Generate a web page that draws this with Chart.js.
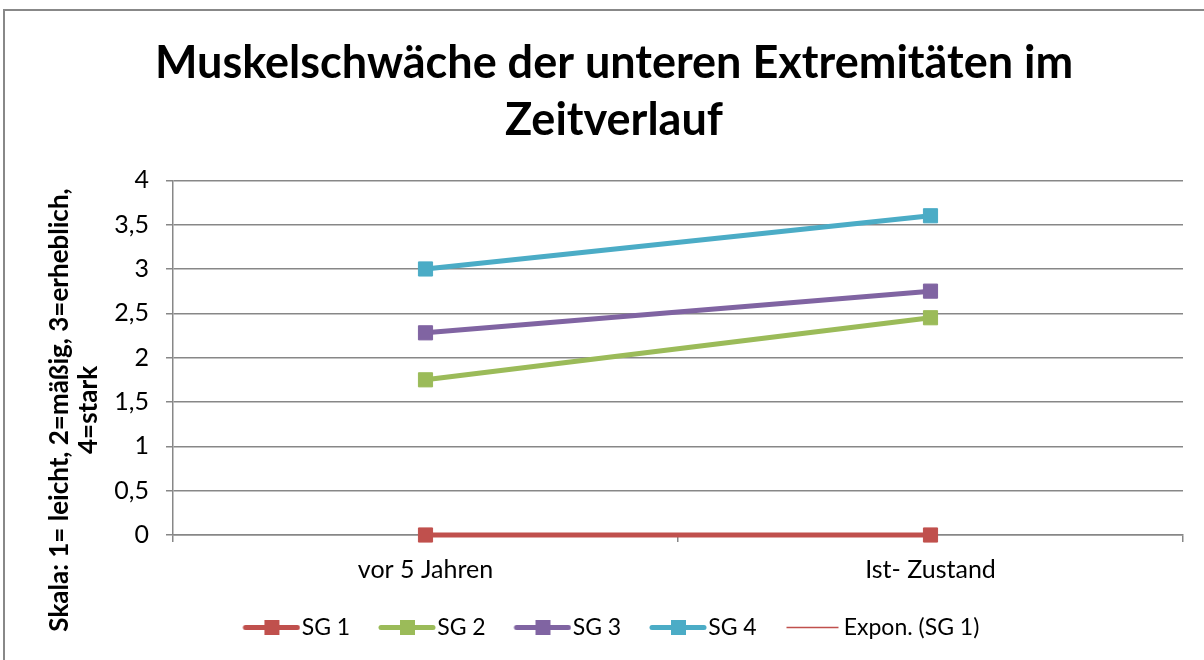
<!DOCTYPE html>
<html>
<head>
<meta charset="utf-8">
<script src="https://cdn.jsdelivr.net/npm/chart.js@4.4.1/dist/chart.umd.min.js"></script>
<style>
body{margin:0;background:#fff;overflow:hidden;}
#frameID{position:absolute;left:3px;top:9px;width:1300px;height:700px;border:2px solid #888;}
#wrapID{position:absolute;left:0;top:0;width:1204px;height:660px;}
</style>
</head>
<body>
<div id="frameID"></div>
<div id="wrapID"><canvas id="chartID"></canvas></div>
<script>
// values
var categories=['vor 5 Jahren','Ist- Zustand'];
var sg1=[0,0];
var sg2=[1.75,2.45];
var sg3=[2.28,2.75];
var sg4=[3.0,3.6];
var seriesNames=['SG 1','SG 2','SG 3','SG 4','Expon. (SG 1)'];
var seriesColors=['#C0504D','#9BBB59','#8064A2','#4BACC6','#C0504D'];
var yTickLabels=['0','0,5','1','1,5','2','2,5','3','3,5','4'];
var chartTitle=['Muskelschwäche der unteren Extremitäten im','Zeitverlauf'];
var yTitle=['Skala: 1= leicht, 2=mäßig, 3=erheblich,','4=stark'];

var fontName='Lato, "Open Sans", sans-serif';
var gridColor='#878787';
Chart.defaults.font.family=fontName;
Chart.defaults.color='#000';

// legend icon: line (with square marker) drawn in the right part of a wider canvas
function legendIcon(color,lineW,marker) {
 var cv=document.createElement('canvas');
 cv.width=86; cv.height=19;
 var g=cv.getContext('2d');
 g.strokeStyle=color; g.lineWidth=lineW; g.lineCap=marker?'round':'butt';
 g.beginPath();
 if (marker) {g.moveTo(31,9.5); g.lineTo(83,9.5);} else {g.moveTo(30,9.5); g.lineTo(82,9.5);}
 g.stroke();
 if (marker) {g.fillStyle=color; g.fillRect(50,2,15,15);}
 return cv;
}
var icons=[
 legendIcon(seriesColors[0],5,true),
 legendIcon(seriesColors[1],5,true),
 legendIcon(seriesColors[2],5,true),
 legendIcon(seriesColors[3],5,true),
 legendIcon(seriesColors[4],1.5,false)
];

var yTitlePlugin={
 id:'yTitle',
 afterLayout(chart) {
  // the icons start inside the box, so move the legend a bit left
  chart.legend.left-=12;
  chart.legend.right-=12;
 },
 afterDraw(chart) {
  var c=chart.ctx;
  c.save();
  c.translate(60,410);
  c.rotate(-Math.PI/2);
  c.font='bold 26px '+fontName;
  c.fillStyle='#000';
  c.textAlign='center';
  c.textBaseline='middle';
  c.fillText(yTitle[0],0,0);
  c.fillText(yTitle[1],0,29);
  c.restore();
 }
};

function lineSet(name,values,color) {
 return {label:name, data:values, borderColor:color, backgroundColor:color,
  borderWidth:5, pointStyle:'rect', pointRadius:10, pointBorderWidth:1,
  pointBackgroundColor:color, pointBorderColor:color, tension:0, clip:false};
}

var ctx=document.getElementById('chartID').getContext('2d');
var chart=new Chart(ctx,{
 type:'line',
 data:{
  labels:categories,
  datasets:[
   lineSet(seriesNames[0],sg1,seriesColors[0]),
   lineSet(seriesNames[1],sg2,seriesColors[1]),
   lineSet(seriesNames[2],sg3,seriesColors[2]),
   lineSet(seriesNames[3],sg4,seriesColors[3]),
   {label:seriesNames[4], data:[null,null], borderColor:seriesColors[4], borderWidth:1.5, pointRadius:0}
  ]
 },
 options:{
  responsive:true, maintainAspectRatio:false, animation:false,
  layout:{padding:{left:45,right:21,top:0,bottom:11}},
  plugins:{
   title:{display:true, text:chartTitle, color:'#000',
    font:{size:45,weight:'bold',lineHeight:1.27}, padding:{top:35,bottom:31}},
   legend:{position:'bottom',
    labels:{usePointStyle:true, pointStyleWidth:65.5, padding:10, color:'#000', font:{size:23},
     generateLabels(ch) {
      return ch.data.datasets.map(function(ds,i){
       return {text:ds.label, pointStyle:icons[i], fillStyle:'transparent', strokeStyle:'transparent',
        lineWidth:0, hidden:false, datasetIndex:i, fontColor:'#000'};
      });
     }}},
   tooltip:{enabled:false}
  },
  scales:{
   x:{offset:true,
    grid:{offset:true, drawOnChartArea:false, color:gridColor, lineWidth:1.5, tickLength:7},
    border:{color:gridColor, width:1.5},
    ticks:{font:{size:25}, color:'#000', padding:13, maxRotation:0},
    afterFit(s) {s.height=71;}
   },
   y:{min:0, max:4,
    grid:{color:gridColor, lineWidth:1.5, tickLength:7},
    border:{color:gridColor, width:1.5},
    ticks:{stepSize:0.5, font:{size:25}, color:'#000', padding:17,
     callback:function(v,i){return yTickLabels[i];}},
    afterFit(s) {s.width=128;}
   }
  }
 },
 plugins:[yTitlePlugin]
});
</script>
</body>
</html>
